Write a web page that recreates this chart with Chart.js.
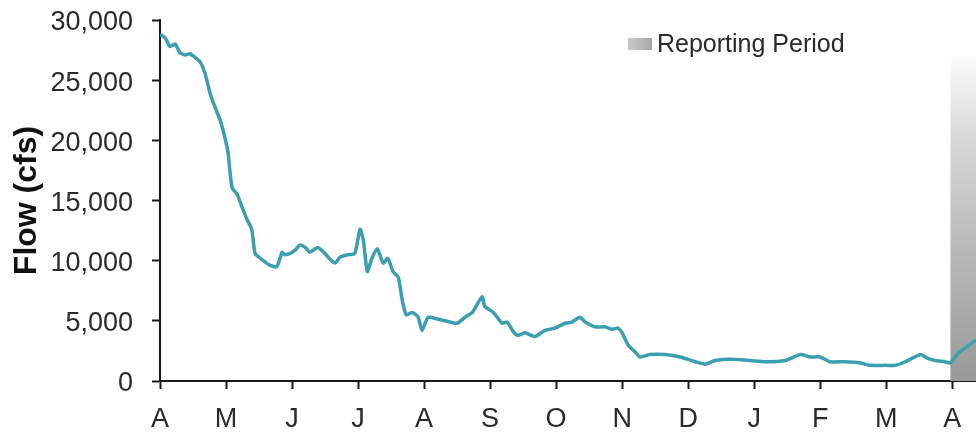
<!DOCTYPE html>
<html><head><meta charset="utf-8">
<script src="https://cdn.jsdelivr.net/npm/chart.js@4.4.0/dist/chart.umd.min.js"></script>
<style>html,body{margin:0;padding:0;background:#fff;} #c{display:block;}</style>
</head><body>
<canvas id="c" width="976" height="434"></canvas>
<script>
// Month tick labels (Apr .. Apr)
const monthLabels = ['A','M','J','J','A','S','O','N','D','J','F','M','A'];
// Position along the time axis, in months since the first April
const monthPos = [0.00,0.03,0.08,0.15,0.23,0.30,0.38,0.45,0.53,0.61,0.68,0.76,0.83,0.91,0.98,1.03,1.09,1.17,1.24,1.32,1.39,1.44,1.52,1.59,1.67,1.77,1.85,1.89,1.97,2.05,2.12,2.20,2.27,2.39,2.50,2.58,2.65,2.73,2.85,2.95,3.03,3.08,3.14,3.21,3.29,3.38,3.45,3.53,3.61,3.67,3.73,3.82,3.91,3.97,4.06,4.17,4.32,4.50,4.62,4.73,4.88,4.92,5.05,5.18,5.26,5.35,5.42,5.53,5.68,5.83,5.98,6.14,6.24,6.36,6.44,6.59,6.74,6.85,6.94,7.00,7.09,7.20,7.27,7.42,7.65,7.88,8.11,8.26,8.41,8.64,8.94,9.17,9.47,9.70,9.85,10.00,10.15,10.38,10.61,10.76,10.98,11.14,11.29,11.52,11.62,11.74,11.89,11.97,12.09,12.21,12.36];
// Flow in cfs
const flowCfs = [28800,28700,28500,27800,28000,27300,27100,27200,26900,26500,25600,23900,22800,21700,20300,19000,16100,15500,14500,13400,12600,10600,10200,9900,9600,9500,10700,10500,10600,10900,11300,11100,10700,11100,10600,10100,9800,10300,10500,10600,12600,11700,9100,10200,11000,9800,10200,9100,8600,6700,5500,5700,5300,4200,5300,5200,5000,4800,5300,5700,7000,6200,5700,4800,4900,4100,3800,4000,3700,4200,4400,4800,4900,5300,4900,4500,4500,4300,4400,4000,3000,2400,2000,2200,2200,2000,1600,1400,1700,1800,1700,1600,1700,2200,2000,2000,1600,1600,1500,1300,1300,1300,1600,2200,1900,1700,1600,1500,2300,2800,3400];
// Y axis ticks
const yTicks = [0,5000,10000,15000,20000,25000,30000];
// Reporting period band
const reportStart = 11.97, reportEnd = 12.36, reportTop = 27000;
const legendLabel = 'Reporting Period';
const yTitle = 'Flow (cfs)';

const FONT = "'Liberation Sans', Arial, sans-serif";
const TXT = '#2a2a2a';
const AX = '#1a1a1a';

function shadeGradient(ctx, top, bottom) {
  const g = ctx.createLinearGradient(0, top, 0, bottom);
  g.addColorStop(0, '#fbfbfb');
  g.addColorStop(0.25, '#d9d9d9');
  g.addColorStop(0.55, '#bdbdbd');
  g.addColorStop(1, '#999999');
  return g;
}

const legendPlugin = {
  id: 'customLegend',
  afterDraw(chart) {
    const ctx = chart.ctx;
    ctx.save();
    const sx = 628, sy = 38, sw = 24, sh = 12;
    const g = ctx.createLinearGradient(sx, 0, sx + sw, 0);
    g.addColorStop(0, '#c8c8c8');
    g.addColorStop(1, '#a8a8a8');
    ctx.fillStyle = g;
    ctx.fillRect(sx, sy, sw, sh);
    ctx.fillStyle = TXT;
    ctx.font = "25px " + FONT;
    ctx.textBaseline = 'middle';
    ctx.textAlign = 'left';
    ctx.fillText(legendLabel, 657, 45);
    ctx.restore();
  }
};

new Chart(document.getElementById('c'), {
  type: 'line',
  data: {
    datasets: [
      {
        label: 'Flow',
        data: monthPos.map((m, i) => ({x: m, y: flowCfs[i]})),
        borderColor: '#3b9fb1',
        borderWidth: 3.5,
        pointRadius: 0,
        tension: 0.2,
        fill: false,
        order: 0
      },
      {
        label: legendLabel,
        data: [{x: reportStart, y: reportTop}, {x: reportEnd, y: reportTop}],
        borderWidth: 0,
        borderColor: 'rgba(0,0,0,0)',
        pointRadius: 0,
        fill: 'origin',
        backgroundColor: (c) => {
          const ch = c.chart;
          if (!ch.chartArea) return '#bbbbbb';
          return shadeGradient(ch.ctx, ch.scales.y.getPixelForValue(reportTop), ch.scales.y.getPixelForValue(0));
        },
        order: 1
      }
    ]
  },
  options: {
    responsive: false,
    animation: false,
    layout: {padding: {top: 20, right: 0, bottom: 0, left: 0}},
    plugins: {legend: {display: false}, tooltip: {enabled: false}},
    scales: {
      x: {
        type: 'linear',
        min: 0,
        max: reportEnd,
        afterFit: (s) => { s.height = 53; s.paddingLeft = 0; s.paddingRight = 0; },
        afterBuildTicks: (s) => { s.ticks = monthLabels.map((_, i) => ({value: i})); },
        ticks: {
          callback: (v) => monthLabels[v] ?? '',
          font: {family: FONT, size: 27},
          color: TXT,
          padding: 14,
          maxRotation: 0,
          autoSkip: false
        },
        grid: {drawOnChartArea: false, drawTicks: true, tickLength: 8, tickColor: AX, tickWidth: 2},
        border: {display: true, color: AX, width: 2}
      },
      y: {
        min: 0,
        max: 30000,
        afterFit: (s) => { s.width = 160; s.paddingTop = 0; s.paddingBottom = 0; },
        afterBuildTicks: (s) => { s.ticks = yTicks.map(v => ({value: v})); },
        ticks: {
          callback: (v) => v.toLocaleString('en-US'),
          font: {family: FONT, size: 27},
          color: TXT,
          padding: 19,
          labelOffset: 3
        },
        title: {
          display: true,
          text: yTitle,
          font: {family: FONT, size: 32, weight: 'bold'},
          color: '#111111',
          padding: {top: 8, bottom: 0}
        },
        grid: {drawOnChartArea: false, drawTicks: true, tickLength: 8, tickColor: AX, tickWidth: 2},
        border: {display: true, color: AX, width: 2}
      }
    }
  },
  plugins: [legendPlugin]
});
</script>
</body></html>
